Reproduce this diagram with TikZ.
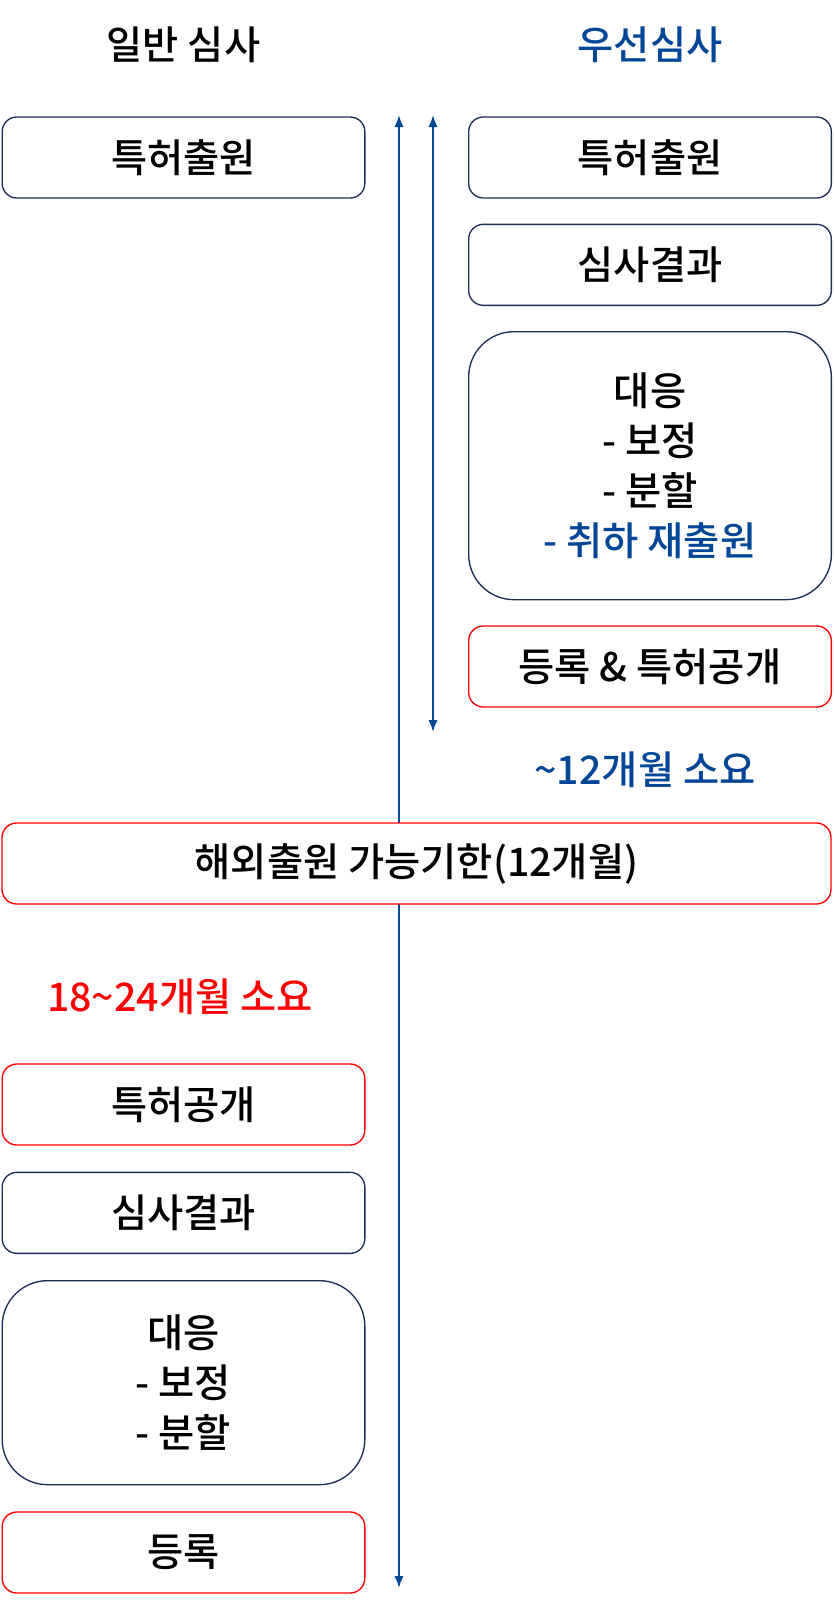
\documentclass[tikz,border=0pt]{standalone}
\usepackage{fontspec}
\setmainfont{Noto Sans CJK KR}[UprightFont={* Medium}]
\usetikzlibrary{arrows.meta,positioning}
\definecolor{navyline}{RGB}{30,45,85}
\definecolor{fastblue}{RGB}{0,70,150}
\definecolor{slowred}{RGB}{255,0,0}
\tikzset{plainbox/.style={rectangle,rounded corners=11pt,draw=navyline,fill=white,line width=1pt,minimum width=272pt,minimum height=60.75pt,font=\fontsize{29.5pt}{37.5pt}\selectfont}}
\tikzset{redbox/.style={plainbox,draw=slowred}}
\tikzset{bigbox/.style={plainbox,rounded corners=34pt,align=center}}
\tikzset{label/.style={font=\fontsize{29.5pt}{37.5pt}\selectfont}}
\tikzset{span/.style={draw=fastblue,line width=1.5pt,{Latex[length=9pt,width=7pt]}-{Latex[length=9pt,width=7pt]}}}

\begin{document}
\begin{tikzpicture}[x=0.75pt,y=-0.75pt]
\useasboundingbox (0,0) rectangle (833,1600);
\coordinate (ltop) at (399,115);
\coordinate (lbot) at (399,1588);
\coordinate (rtop) at (433,115);
\coordinate (rbot) at (433,732);
\draw [span] (ltop) -- (lbot);
\draw [span] (rtop) -- (rbot);
% titles
\node (ltitle) [label] at (183.5,45) {일반 심사};
\node (rtitle) [label,text=fastblue] at (650,45) {우선심사};
% priority examination
\begin{scope}[node distance=18.75pt]
	\node (rfile) [plainbox] at (650,157.5) {특허출원};
	\node (rresult) [plainbox, below =of rfile] {심사결과};
	\node (rreply) [bigbox, minimum height=201pt, below =of rresult] {대응\\- 보정\\- 분할\\\textcolor{fastblue}{- 취하 재출원}};
	\node (rreg) [redbox, below =of rreply] {등록 \& 특허공개};
\end{scope}
\node (rspan) [label,text=fastblue] at (645,770) {\textasciitilde12개월 소요};
% general examination
\node (lfile) [plainbox] at (183.5,157.5) {특허출원};
\node (abroad) [redbox, minimum width=621.75pt] at (416.5,863.5) {해외출원 가능기한(12개월)};
\node (lspan) [label,text=slowred] at (180,997) {18\textasciitilde24개월 소요};
\begin{scope}[node distance=19.5pt]
	\node (lpub) [redbox] at (183.5,1104.5) {특허공개};
	\node (lresult) [plainbox, below =of lpub] {심사결과};
	\node (lreply) [bigbox, minimum height=153pt, below =of lresult] {대응\\- 보정\\- 분할};
	\node (lreg) [redbox, below =of lreply] {등록};
\end{scope}
\end{tikzpicture}
\end{document}
